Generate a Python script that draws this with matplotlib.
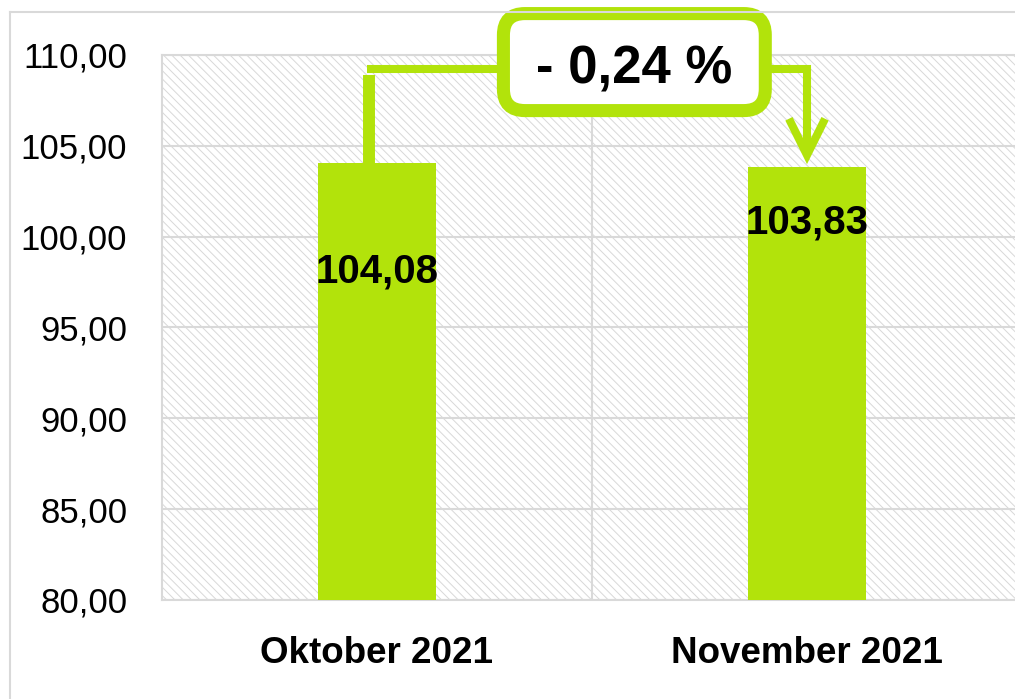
import matplotlib
matplotlib.use("Agg")
import matplotlib.pyplot as plt
from matplotlib.patches import Rectangle, FancyBboxPatch
from matplotlib.lines import Line2D

# data
months = ["Oktober 2021", "November 2021"]
values = [104.08, 103.83]
value_labels = ["104,08", "103,83"]
change_label = "- 0,24 %"
yticks = [80, 85, 90, 95, 100, 105, 110]
ytick_labels = ["80,00", "85,00", "90,00", "95,00", "100,00", "105,00", "110,00"]

GREEN = "#b2e30b"
GRID = "#d9d9d9"
W, H = 1015, 699

plt.rcParams["font.family"] = ["Liberation Sans", "DejaVu Sans"]
plt.rcParams["hatch.linewidth"] = 0.7

fig = plt.figure(figsize=(W / 100, H / 100), dpi=100)
ax = fig.add_axes([162 / W, 99 / H, 860 / W, 545 / H])

# outer chart frame (cut at right/bottom like the original)
fig.add_artist(Line2D([10 / W, 1], [1 - 12 / H, 1 - 12 / H], color=GRID, lw=1.5))
fig.add_artist(Line2D([10 / W, 10 / W], [0, 1 - 12 / H], color=GRID, lw=1.5))

# hatched plot area
ax.patch.set_visible(False)
ax.add_patch(Rectangle((0, 0), 1, 1, transform=ax.transAxes, facecolor="white",
                       edgecolor="#d8d8d8", hatch="\\" * 4, lw=0, zorder=0))

x = list(range(len(months)))
ax.bar(x, values, width=0.274, color=GREEN, zorder=3)

ax.set_xlim(-0.5, 1.5)
ax.set_ylim(80, 110)
ax.set_yticks(yticks)
ax.set_yticklabels(ytick_labels, fontsize=25)
ax.set_xticks(x)
ax.set_xticklabels(months, fontsize=26.5, fontweight="bold")
ax.tick_params(axis="y", length=0, pad=25)
ax.tick_params(axis="x", length=0, pad=26)

ax.yaxis.grid(True, color=GRID, lw=1.5, zorder=1)
ax.axvline(0.5, color=GRID, lw=1.5, zorder=1)
for side in ["left", "top", "bottom"]:
    ax.spines[side].set_color(GRID)
    ax.spines[side].set_linewidth(1.5)
ax.spines["right"].set_visible(False)

# value labels (placed manually below the bar tops, as in the original)
label_drop = [120, 66]
for i, (v, lab) in enumerate(zip(values, value_labels)):
    ax.annotate(lab, xy=(i, v), xytext=(0, -label_drop[i]), textcoords="offset pixels",
                ha="center", va="baseline", fontsize=29, fontweight="bold", zorder=6)

# change callout: elbow connector from first bar to box, arrow down to second bar
y_line = 109.22
ax.plot([-0.0186, -0.0186], [values[0], 108.9], color=GREEN, lw=8.6,
        solid_capstyle="butt", zorder=4, clip_on=False)
ax.plot([-0.023, 0.3], [y_line, y_line], color=GREEN, lw=5.8,
        solid_capstyle="butt", zorder=4, clip_on=False)

tip = values[1] + 0.66
ax.plot([0.9, 1.0, 1.0], [y_line, y_line, tip + 0.2], color=GREEN, lw=5.8,
        solid_capstyle="butt", solid_joinstyle="miter", zorder=4, clip_on=False)
ax.plot([0.958, 1.0, 1.042], [tip + 2.0, tip, tip + 2.0], color=GREEN, lw=5.8,
        solid_capstyle="butt", solid_joinstyle="miter", zorder=4, clip_on=False)

box = FancyBboxPatch((0.294, 106.94), 0.609, 5.34,
                     boxstyle="round,pad=0,rounding_size=0.05",
                     mutation_aspect=430 / (545 / 30),
                     facecolor="white", edgecolor=GREEN, lw=9.4,
                     zorder=5, clip_on=False)
ax.add_patch(box)
ax.text(0.599, 108.45, change_label, ha="center", va="baseline",
        fontsize=38, fontweight="bold", zorder=6, clip_on=False)

fig.savefig("out.png", dpi=100)
